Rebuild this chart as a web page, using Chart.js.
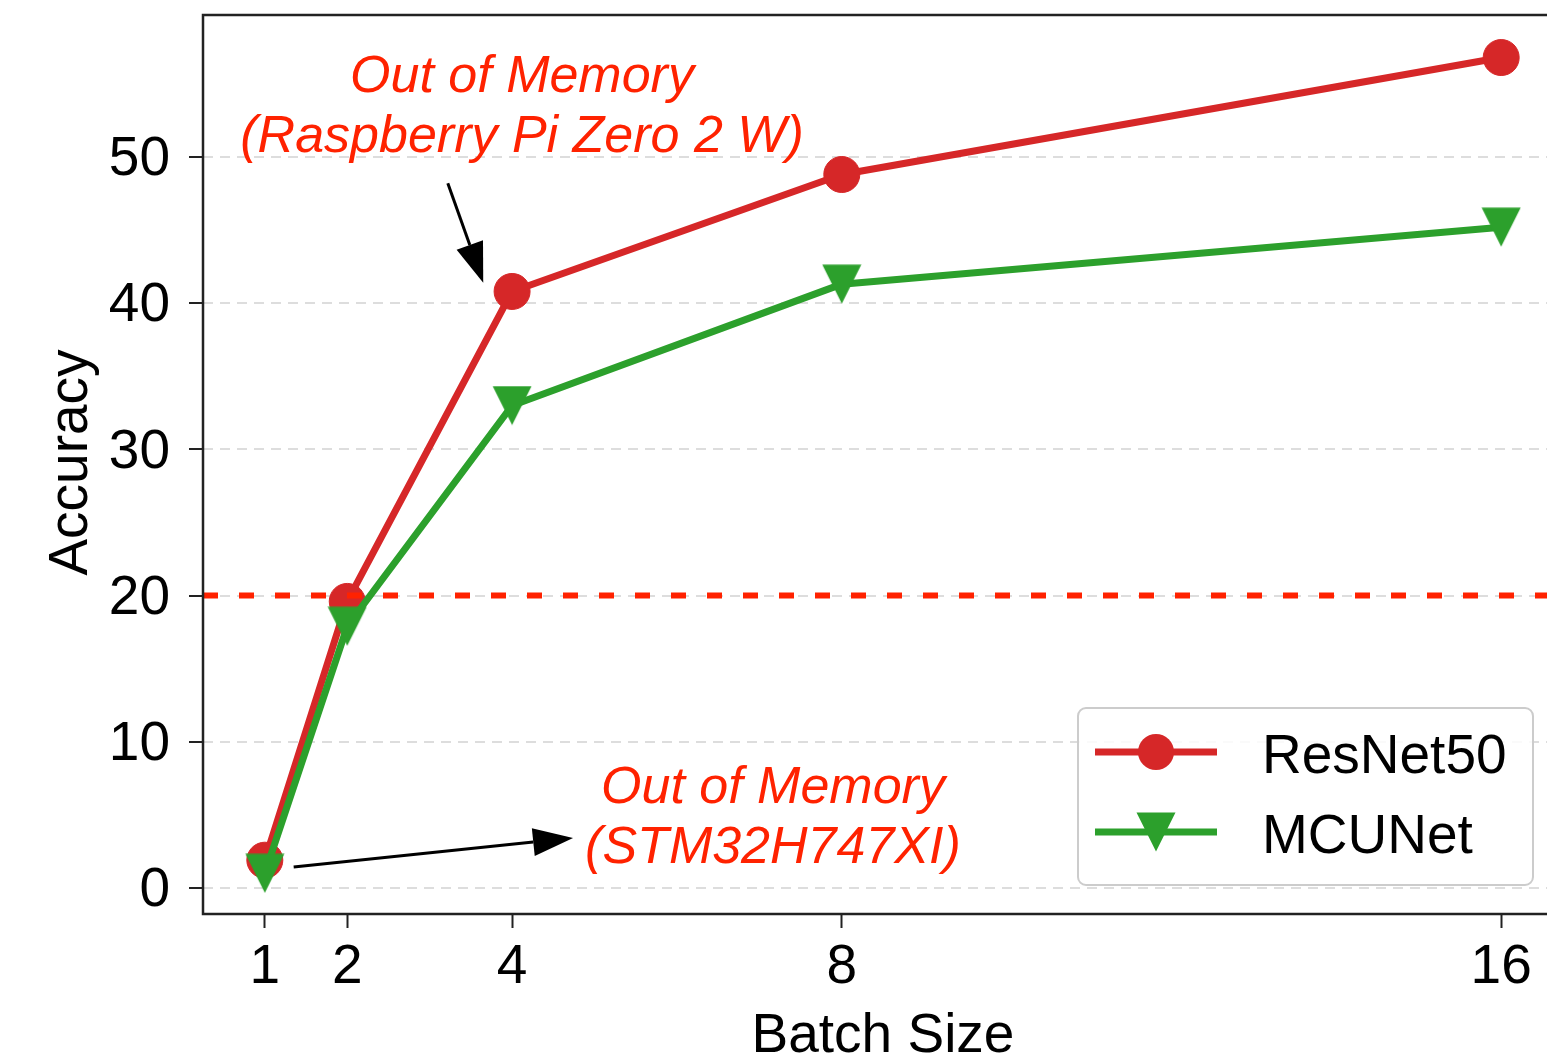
<!DOCTYPE html>
<html><head><meta charset="utf-8">
<script src="https://cdn.jsdelivr.net/npm/chart.js@4.4.0/dist/chart.umd.min.js"></script>
<style>
html,body{margin:0;padding:0;background:#fff;overflow:hidden}
#wrap{width:1547px;height:1058px;overflow:hidden;position:relative;background:#fff}
canvas{display:block}
</style></head><body>
<div id="wrap"><canvas id="c" width="1600" height="1058"></canvas></div>
<script>
// ---- data ----
const batchSizes = [1, 2, 4, 8, 16];
const resnet50Acc = [1.9, 19.6, 40.8, 48.8, 56.8];
const mcunetAcc = [1.0, 17.9, 33.0, 41.3, 45.2];
const seriesNames = ['ResNet50', 'MCUNet'];
const xTicks = [1, 2, 4, 8, 16];
const yTicks = [0, 10, 20, 30, 40, 50];
const thresholdAcc = 20;
const xRange = [0.25, 16.75];
const yRange = [-1.78, 59.71];
const xTitle = 'Batch Size';
const yTitle = 'Accuracy';
const annotationTexts = [
  ['Out of Memory', '(Raspberry Pi Zero 2 W)'],
  ['Out of Memory', '(STM32H747XI)']
];
// annotation anchors in data units (text centre x, first baseline y)
const annotationAnchors = [[4.12, 54.45], [7.165, 5.8]];
// arrows in data units: [tailX, tailY, tipX, tipY]
const arrowPoints = [[3.22, 48.2, 3.65, 41.4], [1.35, 1.44, 4.74, 3.42]];

// ---- styles ----
const FONT = '"Liberation Sans", Arial, Helvetica, sans-serif';
const RED = '#d62728', GREEN = '#2ca02c', ANN = '#ff2200', AXIS = '#222222';

function triangleDown(size, color) {
  const c = document.createElement('canvas');
  c.width = size; c.height = size;
  const g = c.getContext('2d');
  g.fillStyle = color;
  g.beginPath(); g.moveTo(0.5, 0.5); g.lineTo(size - 0.5, 0.5); g.lineTo(size / 2, size - 0.5); g.closePath(); g.fill();
  return c;
}
const triImg = triangleDown(40, GREEN);
const toXY = (xs, ys) => xs.map((x, i) => ({x: x, y: ys[i]}));

const extras = {
  id: 'extras',
  afterDatasetsDraw(chart) {
    const {ctx, chartArea: a, scales: {x, y}} = chart;
    ctx.save();
    // frame
    ctx.strokeStyle = AXIS; ctx.lineWidth = 2.5;
    ctx.strokeRect(a.left, a.top, a.right - a.left, a.bottom - a.top);
    // annotations
    ctx.fillStyle = ANN;
    ctx.font = 'italic 52px ' + FONT;
    ctx.textAlign = 'center'; ctx.textBaseline = 'alphabetic';
    annotationTexts.forEach((lines, k) => {
      const px = x.getPixelForValue(annotationAnchors[k][0]);
      const py = y.getPixelForValue(annotationAnchors[k][1]);
      lines.forEach((t, i) => ctx.fillText(t, px, py + i * 60));
    });
    // arrows
    ctx.strokeStyle = '#000'; ctx.fillStyle = '#000'; ctx.lineWidth = 3;
    arrowPoints.forEach(p => {
      const x0 = x.getPixelForValue(p[0]), y0 = y.getPixelForValue(p[1]);
      const x1 = x.getPixelForValue(p[2]), y1 = y.getPixelForValue(p[3]);
      const ang = Math.atan2(y1 - y0, x1 - x0);
      const hl = 40, hw = 14;
      const bx = x1 - hl * Math.cos(ang), by = y1 - hl * Math.sin(ang);
      ctx.beginPath(); ctx.moveTo(x0, y0); ctx.lineTo(bx, by); ctx.stroke();
      ctx.beginPath();
      ctx.moveTo(x1, y1);
      ctx.lineTo(bx + hw * Math.sin(ang), by - hw * Math.cos(ang));
      ctx.lineTo(bx - hw * Math.sin(ang), by + hw * Math.cos(ang));
      ctx.closePath(); ctx.fill();
    });
    // legend
    const L = 1078, T = 708, R = 1533, B = 885, rad = 8;
    ctx.beginPath();
    ctx.moveTo(L + rad, T); ctx.arcTo(R, T, R, B, rad); ctx.arcTo(R, B, L, B, rad);
    ctx.arcTo(L, B, L, T, rad); ctx.arcTo(L, T, R, T, rad); ctx.closePath();
    ctx.fillStyle = 'rgba(255,255,255,0.85)'; ctx.fill();
    ctx.strokeStyle = '#cccccc'; ctx.lineWidth = 2; ctx.stroke();
    const rows = [752, 832], baselines = [773, 853];
    [0, 1].forEach(i => {
      const ds = chart.data.datasets[i];
      ctx.strokeStyle = ds.borderColor; ctx.lineWidth = 7;
      ctx.beginPath(); ctx.moveTo(1095, rows[i]); ctx.lineTo(1217, rows[i]); ctx.stroke();
      if (ds.pointStyle === 'circle') {
        ctx.fillStyle = ds.borderColor;
        ctx.beginPath(); ctx.arc(1156, rows[i], 18, 0, Math.PI * 2); ctx.fill();
      } else {
        ctx.drawImage(ds.pointStyle, 1156 - 20, rows[i] - 20);
      }
      ctx.fillStyle = '#000'; ctx.font = '55px ' + FONT; ctx.textAlign = 'left';
      ctx.fillText(ds.label, 1262, baselines[i]);
    });
    ctx.restore();
  },
  afterDraw(chart) {
    const {ctx, chartArea: a} = chart;
    ctx.save();
    ctx.fillStyle = '#000'; ctx.font = '55px ' + FONT;
    ctx.textAlign = 'center'; ctx.textBaseline = 'alphabetic';
    ctx.fillText(xTitle, (a.left + a.right) / 2, 1052);
    ctx.translate(87, (a.top + a.bottom) / 2 - 2);
    ctx.rotate(-Math.PI / 2);
    ctx.fillText(yTitle, 0, 0);
    ctx.restore();
  }
};

new Chart(document.getElementById('c'), {
  type: 'line',
  data: {
    datasets: [
      {label: seriesNames[0], data: toXY(batchSizes, resnet50Acc), borderColor: RED, backgroundColor: RED,
       borderWidth: 7, borderJoinStyle: 'round', pointStyle: 'circle', pointRadius: 18, pointHoverRadius: 18,
       pointBackgroundColor: RED, pointBorderColor: RED, pointBorderWidth: 1, order: 2, tension: 0},
      {label: seriesNames[1], data: toXY(batchSizes, mcunetAcc), borderColor: GREEN, backgroundColor: GREEN,
       borderWidth: 7, borderJoinStyle: 'round', pointStyle: triImg, pointRadius: 20, pointHoverRadius: 20,
       pointBackgroundColor: GREEN, pointBorderColor: GREEN, order: 1, tension: 0},
      {label: 'threshold', data: [{x: xRange[0], y: thresholdAcc}, {x: xRange[1], y: thresholdAcc}],
       borderColor: ANN, borderWidth: 6, borderDash: [15, 21], pointRadius: 0, order: 0}
    ]
  },
  options: {
    responsive: false, animation: false, devicePixelRatio: 1,
    layout: {autoPadding: false, padding: {left: 0, top: 15, right: 37, bottom: 0}},
    plugins: {legend: {display: false}, tooltip: {enabled: false}, title: {display: false}},
    scales: {
      x: {
        type: 'linear', min: xRange[0], max: xRange[1],
        afterBuildTicks: s => { s.ticks = xTicks.map(v => ({value: v})); },
        afterFit: s => { s.height = 144; s.paddingLeft = 0; s.paddingRight = 0; s.paddingTop = 0; s.paddingBottom = 0; },
        ticks: {font: {family: FONT, size: 55}, color: '#000', padding: 7, maxRotation: 0, autoSkip: false},
        grid: {drawOnChartArea: false, drawTicks: true, tickLength: 14, tickWidth: 2, tickColor: AXIS},
        border: {display: false}
      },
      y: {
        type: 'linear', min: yRange[0], max: yRange[1],
        afterBuildTicks: s => { s.ticks = yTicks.map(v => ({value: v})); },
        afterFit: s => { s.width = 203; s.paddingLeft = 0; s.paddingRight = 0; s.paddingTop = 0; s.paddingBottom = 0; },
        ticks: {font: {family: FONT, size: 55}, color: '#000', padding: 19, labelOffset: 3},
        grid: {color: '#dddddd', lineWidth: 2, drawTicks: true, tickLength: 14, tickWidth: 2, tickColor: AXIS, tickBorderDash: []},
        border: {display: false, dash: [10, 7]}
      }
    }
  },
  plugins: [extras]
});
</script>
</body></html>
